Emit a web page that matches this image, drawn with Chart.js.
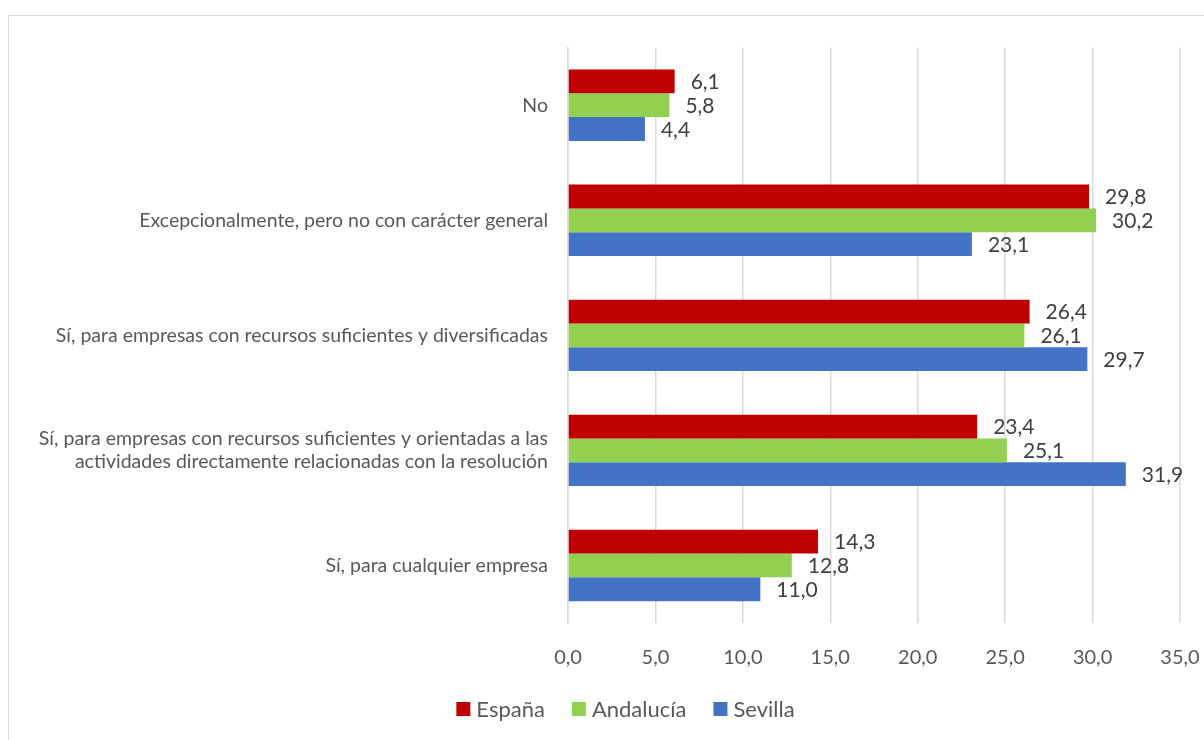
<!DOCTYPE html>
<html>
<head>
<meta charset="utf-8">
<script src="https://cdn.jsdelivr.net/npm/chart.js@4.4.1/dist/chart.umd.min.js"></script>
<style>
  html, body { margin: 0; padding: 0; background: #fff; overflow: hidden; }
  #frame {
    position: absolute; left: 8px; top: 15px;
    width: 1240px; height: 740px;
    border: 1px solid #d9d9d9;
  }
</style>
</head>
<body>
<div id="frame"><canvas id="chart"></canvas></div>
<script>
const categories = [
  'No',
  'Excepcionalmente, pero no con carácter general',
  'Sí, para empresas con recursos suficientes y diversificadas',
  ['Sí, para empresas con recursos suficientes y orientadas a las', 'actividades directamente relacionadas con la resolución'],
  'Sí, para cualquier empresa'
];
const seriesNames = ['España', 'Andalucía', 'Sevilla'];
const espana = [6.1, 29.8, 26.4, 23.4, 14.3];
const andalucia = [5.8, 30.2, 26.1, 25.1, 12.8];
const sevilla = [4.4, 23.1, 29.7, 31.9, 11.0];
const colors = ['#c00000', '#92d050', '#4472c4'];

const fontFamily = 'Lato, "Open Sans", sans-serif';
const textColor = '#595959';

const fmt = v => v.toFixed(1).replace('.', ',');

// draws the value next to every bar
const valueLabels = {
  id: 'valueLabels',
  afterDatasetsDraw(chart) {
    const ctx = chart.ctx;
    ctx.save();
    ctx.font = '21px ' + fontFamily;
    ctx.fillStyle = '#404040';
    ctx.textAlign = 'left';
    ctx.textBaseline = 'middle';
    chart.data.datasets.forEach((ds, i) => {
      chart.getDatasetMeta(i).data.forEach((bar, j) => {
        ctx.fillText(fmt(ds.data[j]), bar.x + 16, bar.y + 1);
      });
    });
    ctx.restore();
  }
};

// legend centred under the whole frame, like the excel one
const bottomLegend = {
  id: 'bottomLegend',
  afterDraw(chart) {
    const ctx = chart.ctx;
    const box = 14, gap = 6, spacing = 27;
    const cx = 616.5, cy = 693;
    ctx.save();
    ctx.font = '22px ' + fontFamily;
    ctx.textBaseline = 'middle';
    ctx.textAlign = 'left';
    const items = chart.data.datasets.map(ds => ({
      text: ds.label, color: ds.backgroundColor, w: ctx.measureText(ds.label).width
    }));
    const total = items.reduce((s, it) => s + box + gap + it.w, 0) + spacing * (items.length - 1);
    let x = cx - total / 2;
    items.forEach(it => {
      ctx.fillStyle = it.color;
      ctx.fillRect(x, cy - box / 2, box, box);
      ctx.fillStyle = textColor;
      ctx.fillText(it.text, x + box + gap, cy + 1);
      x += box + gap + it.w + spacing;
    });
    ctx.restore();
  }
};

new Chart(document.getElementById('chart'), {
  type: 'bar',
  data: {
    labels: categories,
    datasets: [
      { label: seriesNames[0], data: espana, backgroundColor: colors[0] },
      { label: seriesNames[1], data: andalucia, backgroundColor: colors[1] },
      { label: seriesNames[2], data: sevilla, backgroundColor: colors[2] }
    ]
  },
  options: {
    indexAxis: 'y',
    responsive: true,
    maintainAspectRatio: false,
    animation: false,
    datasets: { bar: { categoryPercentage: 0.62, barPercentage: 1 } },
    layout: { padding: { top: 29, right: 69, left: 0, bottom: 63 } },
    scales: {
      x: {
        min: 0, max: 35,
        ticks: {
          stepSize: 5,
          color: textColor,
          font: { family: fontFamily, size: 20 },
          padding: 23,
          callback: v => fmt(v)
        },
        grid: { color: '#d9d9d9', lineWidth: 1.5, drawTicks: false },
        border: { display: false }
      },
      y: {
        ticks: {
          color: textColor,
          font: { family: fontFamily, size: 19.5 },
          padding: 20
        },
        grid: { display: false, drawTicks: false },
        border: { display: true, color: '#d9d9d9', width: 1.5 },
        afterFit: s => { s.width = 559; }
      }
    },
    plugins: {
      legend: { display: false },
      tooltip: { enabled: false }
    }
  },
  plugins: [valueLabels, bottomLegend]
});
</script>
</body>
</html>
